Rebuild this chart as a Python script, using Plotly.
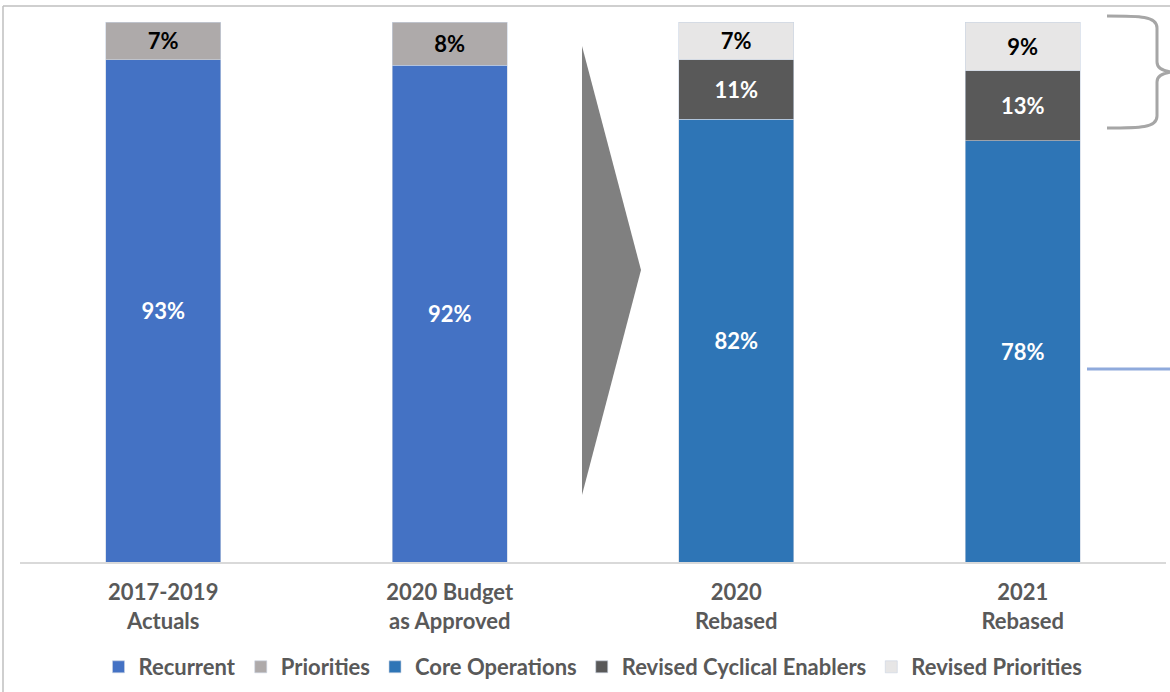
import plotly.graph_objects as go

categories = ["2017-2019<br>Actuals", "2020 Budget<br>as Approved", "2020<br>Rebased", "2021<br>Rebased"]
recurrent = [93, 92, None, None]
priorities = [7, 8, None, None]
core_operations = [None, None, 82, 78]
revised_cyclical = [None, None, 11, 13]
revised_priorities = [None, None, 7, 9]

W, H = 1170, 692
ML, MR, MT, MB = 20, 4, 22, 130
PW, PH = W - ML - MR, H - MT - MB

def px(x):
    return (x - ML) / PW

def py(y):
    return (H - MB - y) / PH

FONT = "Lato"
series = [
    ("Recurrent", recurrent, "#4472C4", "white"),
    ("Priorities", priorities, "#AEAAAA", "black"),
    ("Core Operations", core_operations, "#2E75B6", "white"),
    ("Revised Cyclical Enablers", revised_cyclical, "#595959", "white"),
    ("Revised Priorities", revised_priorities, "#E7E6E6", "black"),
]

fig = go.Figure()
for name, vals, col, tcol in series:
    fig.add_trace(go.Bar(
        name=name, x=categories, y=vals,
        marker=dict(color=col, line=dict(color="#C9D3E3", width=0.6)),
        text=[f"{v}%" if v is not None else "" for v in vals],
        textposition="inside", insidetextanchor="middle", textangle=0,
        constraintext="none",
        textfont=dict(family=FONT, size=22, color=tcol, weight="bold"),
        hoverinfo="skip",
    ))

shapes = []
# frame
shapes.append(dict(type="line", xref="paper", yref="paper", x0=px(3), x1=px(1172), y0=py(6), y1=py(6),
                   line=dict(color="#BFBFBF", width=1.5)))
shapes.append(dict(type="line", xref="paper", yref="paper", x0=px(3), x1=px(3), y0=py(6), y1=py(694),
                   line=dict(color="#BFBFBF", width=1.5)))
# arrow triangle
tri = f"M {px(582)} {py(46)} L {px(641)} {py(270)} L {px(582)} {py(495)} Z"
shapes.append(dict(type="path", xref="paper", yref="paper", path=tri,
                   fillcolor="#808080", line=dict(width=0)))
# brace
brace = (f"M {px(1107)} {py(16)} C {px(1140)} {py(16)} {px(1157)} {py(16)} {px(1157)} {py(28)} "
         f"L {px(1157)} {py(62)} C {px(1157)} {py(68)} {px(1162)} {py(71)} {px(1172)} {py(72)} "
         f"C {px(1162)} {py(73)} {px(1157)} {py(76)} {px(1157)} {py(82)} "
         f"L {px(1157)} {py(116)} C {px(1157)} {py(128)} {px(1140)} {py(128)} {px(1107)} {py(128)}")
shapes.append(dict(type="path", xref="paper", yref="paper", path=brace,
                   line=dict(color="#A6A6A6", width=3)))
# blue line
shapes.append(dict(type="line", xref="paper", yref="paper", x0=px(1087), x1=px(1172), y0=py(369), y1=py(369),
                   line=dict(color="#8FAADC", width=3)))

fig.update_layout(
    width=W, height=H,
    margin=dict(l=ML, r=MR, t=MT, b=MB),
    barmode="stack", bargap=0.6,
    plot_bgcolor="white", paper_bgcolor="white",
    font=dict(family=FONT, color="#595959"),
    showlegend=True,
    legend=dict(orientation="h", x=0.5, xanchor="center", y=py(667), yanchor="middle",
                font=dict(family=FONT, size=22, color="#595959", weight="bold"),
                traceorder="normal", itemwidth=30),
    xaxis=dict(showline=True, linecolor="#D9D9D9", linewidth=1.5, ticks="",
               tickfont=dict(family=FONT, size=22, color="#595959", weight="bold"),
               ticklabelstandoff=10,
               showgrid=False, fixedrange=True),
    yaxis=dict(range=[0, 100], visible=False, showgrid=False, fixedrange=True),
    shapes=shapes,
)

fig.write_html("out.html")
